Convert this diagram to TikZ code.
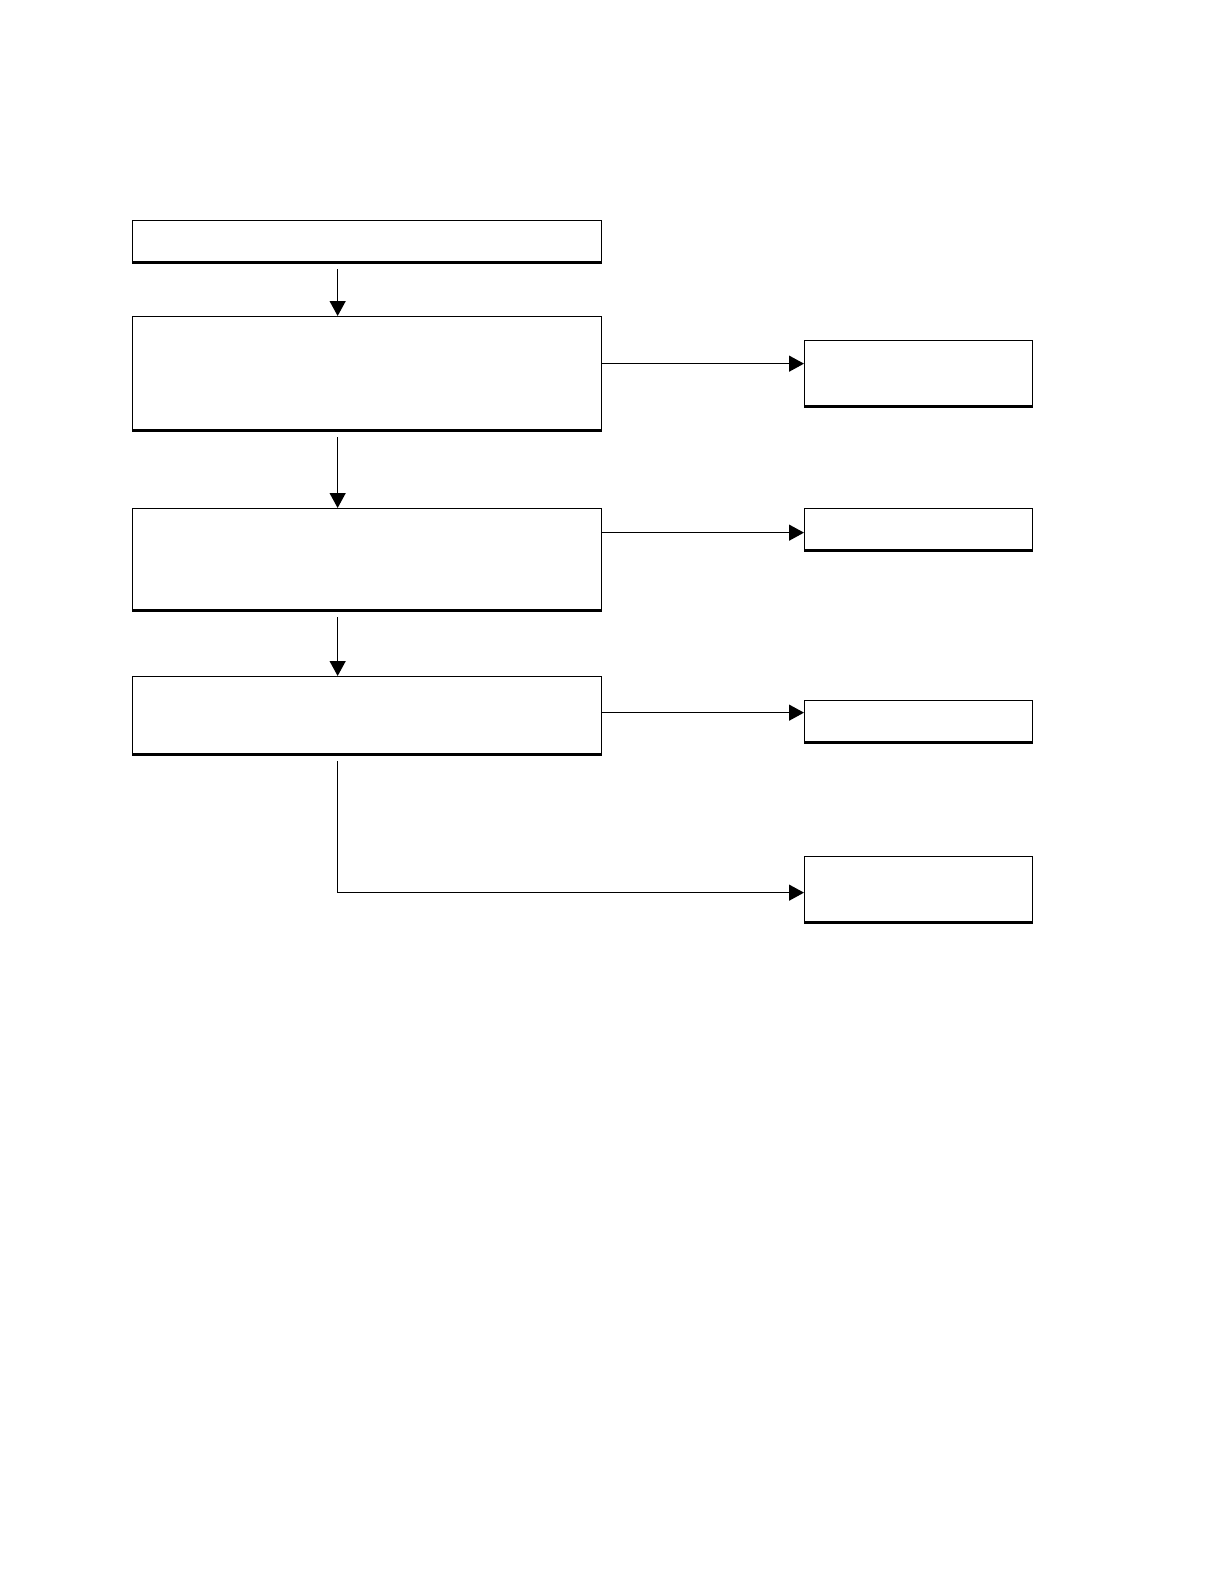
\documentclass[tikz,border=0pt]{standalone}
\usetikzlibrary{arrows.meta}

\begin{document}
\begin{tikzpicture}[x=1pt, y=-1pt,
  block/.style = {draw, line width=1.3pt, anchor=north west, inner sep=0pt, minimum width=469pt},
  side/.style = {draw, line width=1.3pt, anchor=north west, inner sep=0pt, minimum width=228pt},
  edge/.style = {-{Triangle[length=15pt, width=16pt]}, line width=1.3pt},
  base/.style = {line width=2.8pt}]

  \useasboundingbox (0,0) rectangle (1219,1587);

  % main column
  \node[block, minimum height=41pt] (a) at (132,220) {};
  \node[block, minimum height=113pt] (b) at (132,316) {};
  \node[block, minimum height=101pt] (c) at (132,508) {};
  \node[block, minimum height=77pt] (d) at (132,676) {};

  % side boxes
  \node[side, minimum height=65pt] (r1) at (804,340) {};
  \node[side, minimum height=41pt] (r2) at (804,508) {};
  \node[side, minimum height=41pt] (r3) at (804,700) {};
  \node[side, minimum height=65pt] (r4) at (804,856) {};

  \foreach \n in {a,b,c,d,r1,r2,r3,r4}
    \draw[base] ([yshift=-0.75pt]\n.south west) -- ([yshift=-0.75pt]\n.south east);

  \coordinate (r1in) at ([yshift=9.5pt]r1.west);
  \coordinate (r2in) at ([yshift=-3.5pt]r2.west);
  \coordinate (r3in) at ([yshift=8.5pt]r3.west);
  \coordinate (r4in) at ([yshift=-3.5pt]r4.west);

  \draw[edge] ([xshift=-29.5pt, yshift=-7pt]a.south) -- ([xshift=-29.5pt]b.north);
  \draw[edge] ([xshift=-29.5pt, yshift=-7pt]b.south) -- ([xshift=-29.5pt]c.north);
  \draw[edge] ([xshift=-29.5pt, yshift=-7pt]c.south) -- ([xshift=-29.5pt]d.north);
  \draw[edge] ([xshift=-29.5pt, yshift=-7pt]d.south) |- (r4in);

  \draw[edge] (r1in -| b.east) -- (r1in);
  \draw[edge] (r2in -| c.east) -- (r2in);
  \draw[edge] (r3in -| d.east) -- (r3in);
\end{tikzpicture}
\end{document}
